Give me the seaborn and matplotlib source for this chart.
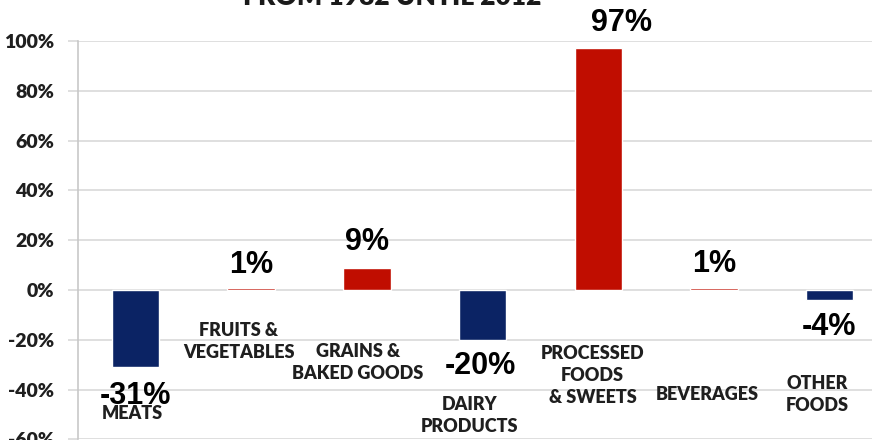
import matplotlib
matplotlib.use("Agg")
import matplotlib.pyplot as plt
import seaborn as sns
import pandas as pd

# Change in consumption by food group, 1982 -> 2012 (%)
categories = ["MEATS", "FRUITS &\nVEGETABLES", "GRAINS &\nBAKED GOODS", "DAIRY\nPRODUCTS",
              "PROCESSED\nFOODS\n& SWEETS", "BEVERAGES", "OTHER\nFOODS"]
changes = [-31, 1, 9, -20, 97, 1, -4]
y_ticks = [-60, -40, -20, 0, 20, 40, 60, 80, 100]
title_text = "FROM 1982 UNTIL 2012"

# label placement (data coordinates: category index, percent)
value_label_pos = [(0.0, -42.6), (1.0, 10.0), (2.0, 19.3), (2.985, -30.5),
                   (4.2, 107.4), (5.0, 10.4), (5.99, -14.9)]
category_label_pos = [(-0.03, -49.4), (0.894, -20.7), (1.92, -29.1), (2.89, -50.4),
                      (3.95, -34.3), (4.94, -42.0), (5.89, -41.8)]

NAVY = "#0b2364"
RED = "#c00d00"
colors = [RED if v > 0 else NAVY for v in changes]

sns.set_theme(style="white")
plt.rcParams["font.family"] = ["Lato", "DejaVu Sans"]

fig = plt.figure(figsize=(8.72, 4.40), dpi=100)
ax = fig.add_axes([77.6 / 872, 0.6 / 440, 810 / 872, 398.4 / 440])

df = pd.DataFrame({"category": categories, "change": changes})
sns.barplot(data=df, x="category", y="change", hue="category", palette=colors,
            legend=False, width=0.41, saturation=1, ax=ax, zorder=3)

ax.set_ylim(-60, 100)
ax.set_xlim(-0.5, len(categories) - 0.5)
ax.set_yticks(y_ticks)
ax.set_yticklabels([f"{t}%" for t in y_ticks], fontsize=14, fontweight="heavy",
                   color="#1f1f1f")
ax.set_xticks([])
ax.set_xlabel("")
ax.set_ylabel("")
ax.yaxis.grid(True, color="#d9d9d9", linewidth=1.2, zorder=0)
ax.set_axisbelow(True)
ax.tick_params(axis="y", left=True, length=7, width=1.2, color="#d9d9d9", pad=10)
for side in ["top", "right", "bottom"]:
    ax.spines[side].set_visible(False)
ax.spines["left"].set_color("#c8c8c8")
ax.spines["left"].set_linewidth(1.2)

for v, (x, y) in zip(changes, value_label_pos):
    ax.text(x, y, f"{v}%", ha="center", va="center", fontsize=22, fontweight="bold",
            family=["Liberation Sans", "DejaVu Sans"], color="black", zorder=5,
            clip_on=False)

for lab, (x, y) in zip(categories, category_label_pos):
    ax.text(x, y, lab, ha="center", va="center", fontsize=13, fontweight="heavy",
            color="#1f1f1f", linespacing=1.35, zorder=4, clip_on=False)

fig.text(392 / 872, 1 - 5 / 440, title_text, ha="center", va="baseline",
         fontsize=19, fontweight="heavy", color="#1a1a1a")

fig.savefig("out.png", dpi=100)
